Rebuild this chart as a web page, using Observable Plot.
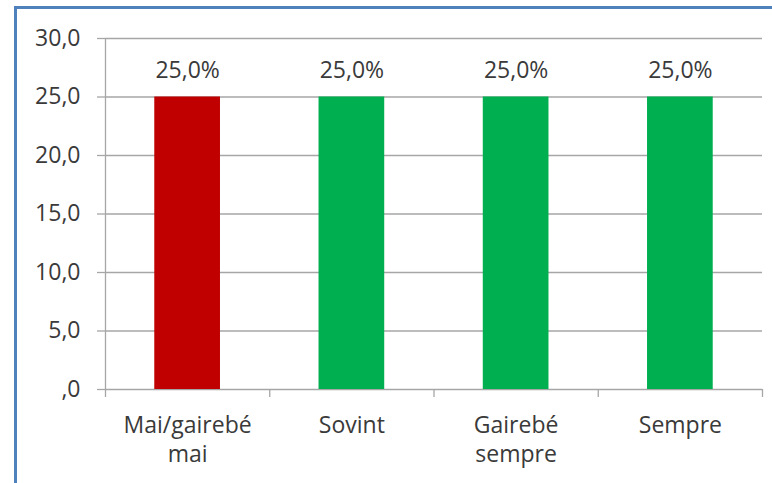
<!DOCTYPE html>
<html><head><meta charset="utf-8">
<script src="https://cdn.jsdelivr.net/npm/d3@7"></script>
<script src="https://cdn.jsdelivr.net/npm/@observablehq/plot@0.6"></script>
<style>
body{margin:0;background:#fff;}
#wrap{position:relative;width:772px;height:483px;overflow:hidden;background:#fff;}
#wrap svg{position:absolute;left:0;top:0;}
#border{position:absolute;left:14px;top:6px;right:-10px;bottom:-10px;border-left:3px solid #4f81bd;border-top:3px solid #4f81bd;z-index:2;}
</style></head><body><div id="wrap"><div id="border"></div></div>
<script>
const categories = ["Mai/gairebé mai", "Sovint", "Gairebé sempre", "Sempre"];
const categoryLabels = ["Mai/gairebé\nmai", "Sovint", "Gairebé\nsempre", "Sempre"];
const values = [25.0, 25.0, 25.0, 25.0];
const valueLabels = ["25,0%", "25,0%", "25,0%", "25,0%"];
const yTicks = [0, 5, 10, 15, 20, 25, 30];
const yTickLabels = [",0", "5,0", "10,0", "15,0", "20,0", "25,0", "30,0"];
const barColors = ["#c00000", "#00b050", "#00b050", "#00b050"];

const data = categories.map((c, i) => ({category: c, label: categoryLabels[i], value: values[i], valueLabel: valueLabels[i], color: barColors[i], i}));
const bounds = d3.range(categories.length + 1);
const gridColor = "#a6a6a6";
const textColor = "#3a3a3a";

const chart = Plot.plot({
  width: 772,
  height: 483,
  marginLeft: 105,
  marginRight: 10,
  marginTop: 38,
  marginBottom: 94,
  style: {fontFamily: "'Open Sans', sans-serif", fontSize: "23px", color: textColor, background: "transparent"},
  x: {type: "linear", domain: [0, categories.length], axis: null},
  y: {domain: [0, 30], axis: null},
  marks: [
    Plot.ruleY(yTicks, {y: d => d, stroke: gridColor, strokeWidth: 1.3}),
    Plot.ruleX([0], {x: d => d, stroke: gridColor, strokeWidth: 1.3}),
    Plot.axisY(yTicks, {tickSize: 8, tickPadding: 17, stroke: gridColor, strokeWidth: 1.3, tickFormat: d => yTickLabels[yTicks.indexOf(d)], label: null, fill: textColor, fontSize: 23}),
    Plot.axisX(bounds, {tickSize: 8, stroke: gridColor, strokeWidth: 1.3, tickFormat: () => "", label: null}),
    Plot.rectY(data, {x1: d => d.i + 0.3, x2: d => d.i + 0.7, y: "value", fill: "color"}),
    Plot.text(data, {x: d => d.i + 0.5, y: "value", text: "valueLabel", lineAnchor: "middle", dy: -26, fill: textColor, fontSize: 23}),
    Plot.text(data, {x: d => d.i + 0.5, y: 0, text: "label", lineAnchor: "top", lineHeight: 1.26, dy: 23, fill: textColor, fontSize: 23})
  ]
});
document.getElementById("wrap").appendChild(chart);
</script>
</body></html>
